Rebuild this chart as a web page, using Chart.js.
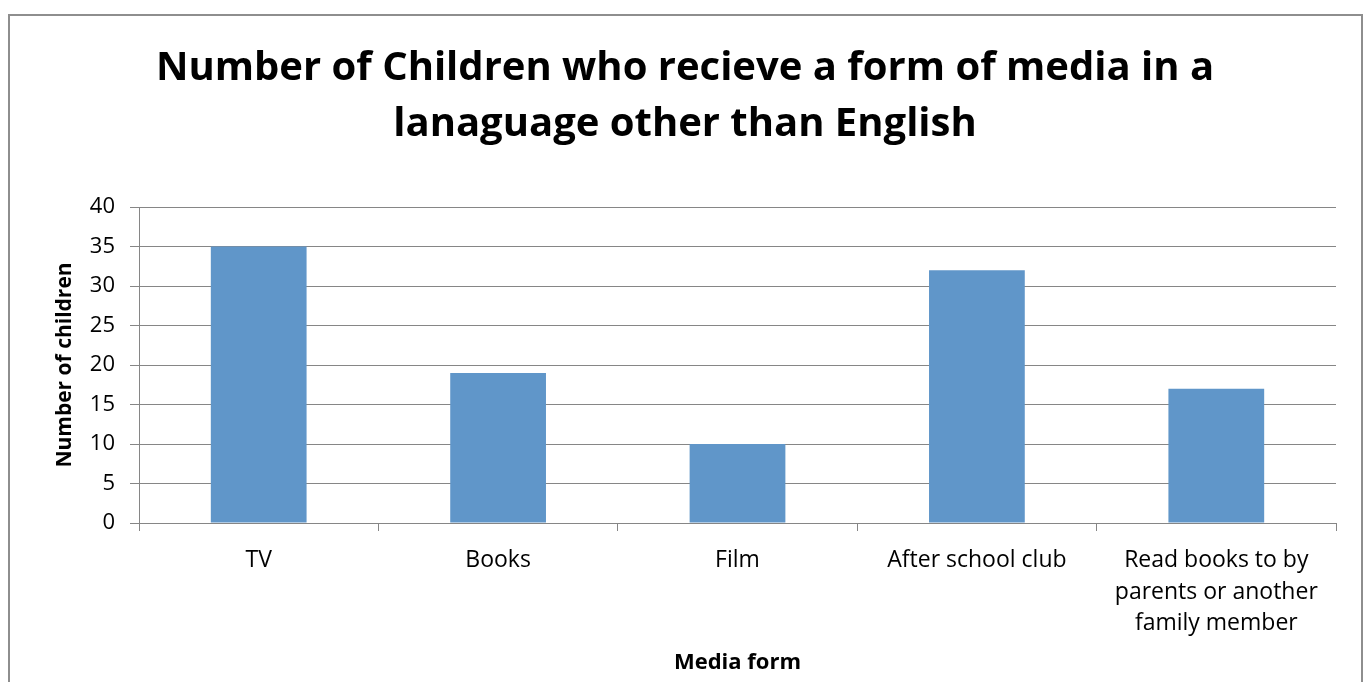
<!DOCTYPE html>
<html>
<head>
<meta charset="utf-8">
<script src="https://cdn.jsdelivr.net/npm/chart.js@4"></script>
<style>
  html, body { margin: 0; padding: 0; background: #ffffff; }
  canvas { display: block; }
</style>
</head>
<body>
<canvas id="mediaChart" width="1370" height="682"></canvas>
<script>
// Datos del gráfico
const categories = ['TV', 'Books', 'Film', 'After school club', ['Read books to by', 'parents or another', 'family member']];
const childCounts = [35, 19, 10, 32, 17];
const yTicks = [0, 5, 10, 15, 20, 25, 30, 35, 40];

const chartTitle = ['Number of Children who recieve a form of media in a', 'lanaguage other than English'];
const yTitle = 'Number of children';
const xTitle = 'Media form';

const FONT = '"Open Sans", "DejaVu Sans", sans-serif';

// Marco gris alrededor del gráfico
const frame = {
    id: 'frame',
    afterDraw(chart) {
        const ctx = chart.ctx;
        ctx.save();
        ctx.strokeStyle = '#8e8e8e';
        ctx.lineWidth = 2;
        ctx.strokeRect(9, 15, 1353, 700);
        ctx.restore();
    }
};

const ctx = document.getElementById('mediaChart').getContext('2d');
new Chart(ctx, {
    type: 'bar',
    data: {
        labels: categories,
        datasets: [{
            data: childCounts,
            backgroundColor: '#6096c9',
            borderWidth: 0,
            barPercentage: 0.4,
            categoryPercentage: 1.0
        }]
    },
    options: {
        responsive: false,
        animation: false,
        layout: { padding: { left: 0, right: 0, top: 14, bottom: 0 } },
        plugins: {
            legend: { display: false },
            tooltip: { enabled: false },
            title: {
                display: true,
                text: chartTitle,
                color: '#000000',
                font: { family: FONT, size: 40, weight: 'bold', lineHeight: 1.4 },
                padding: { top: 27, bottom: 54 }
            }
        },
        scales: {
            x: {
                afterFit(scale) { scale.height = 159; },
                grid: {
                    offset: true,
                    drawOnChartArea: false,
                    drawTicks: true,
                    tickLength: 8,
                    color: '#868686'
                },
                border: { color: '#868686', width: 1 },
                ticks: {
                    color: '#000000',
                    font: { family: FONT, size: 23, lineHeight: 1.39 },
                    padding: 13,
                    maxRotation: 0,
                    autoSkip: false
                },
                title: {
                    display: true,
                    text: xTitle,
                    color: '#000000',
                    font: { family: FONT, size: 22, weight: 'bold', lineHeight: 1.2 },
                    padding: { bottom: 6 }
                }
            },
            y: {
                min: 0,
                max: 40,
                afterFit(scale) { scale.width = 139; },
                afterBuildTicks(scale) { scale.ticks = yTicks.map(v => ({ value: v })); },
                grid: {
                    color: '#868686',
                    drawTicks: true,
                    tickLength: 9
                },
                border: { color: '#868686', width: 1 },
                ticks: {
                    color: '#000000',
                    font: { family: FONT, size: 22 },
                    padding: 15
                },
                title: {
                    display: true,
                    text: yTitle,
                    color: '#000000',
                    font: { family: FONT, size: 21, weight: 'bold', lineHeight: 1.2 },
                    padding: { top: 52 }
                }
            },
            // Eje vacío a la derecha para dejar el margen sin descentrar el título
            yRight: {
                position: 'right',
                display: true,
                min: 0,
                max: 40,
                afterFit(scale) { scale.width = 34; },
                grid: { display: false, drawOnChartArea: false },
                border: { display: false },
                ticks: { display: false }
            }
        }
    },
    plugins: [frame]
});
</script>
</body>
</html>
